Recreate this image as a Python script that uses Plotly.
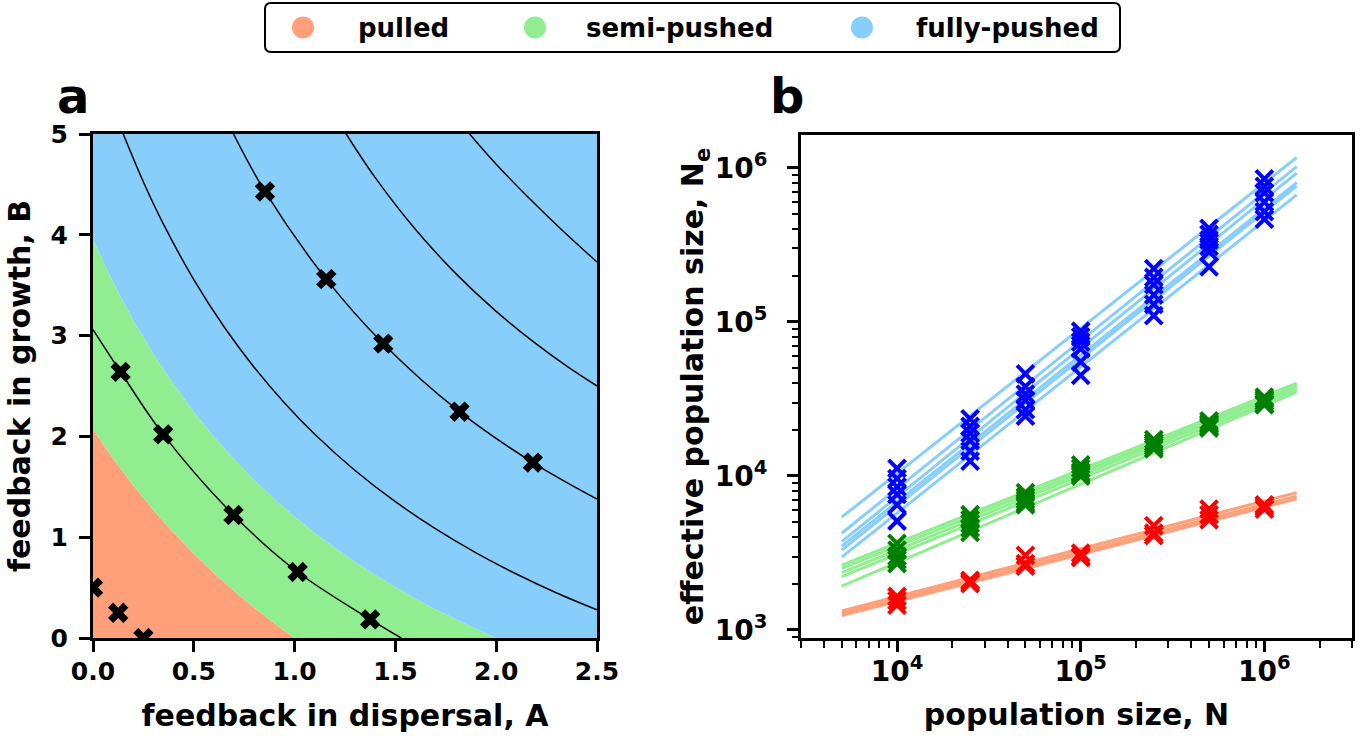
import plotly.graph_objects as go

W, H = 1371, 736

# ---------------- panel a : phase diagram ----------------
pulled_pts_A = [0.0, 0.125, 0.25]
pulled_pts_B = [0.5, 0.25, 0.0]
semi_pts_A = [0.137, 0.348, 0.697, 1.015, 1.375]
semi_pts_B = [2.64, 2.02, 1.22, 0.655, 0.185]
fully_pts_A = [0.853, 1.157, 1.44, 1.818, 2.182]
fully_pts_B = [4.43, 3.56, 2.92, 2.245, 1.74]

# boundary pulled / semi-pushed
pulled_edge_A = [0.0, 0.1, 0.2, 0.3, 0.4, 0.5, 0.6, 0.7, 0.8, 0.9, 1.0]
pulled_edge_B = [2.07, 1.778, 1.512, 1.268, 1.043, 0.836, 0.644, 0.466, 0.300, 0.145, 0.0]
# boundary semi-pushed / fully-pushed
semi_edge_A = [0.0, 0.1, 0.2, 0.3, 0.4, 0.5, 0.6, 0.7, 0.8, 0.9, 1.0,
               1.1, 1.2, 1.3, 1.4, 1.5, 1.6, 1.7, 1.8, 1.9, 2.0]
semi_edge_B = [3.95, 3.526, 3.151, 2.815, 2.514, 2.243, 1.996, 1.771, 1.566, 1.377, 1.203,
               1.042, 0.892, 0.753, 0.624, 0.503, 0.389, 0.283, 0.183, 0.089, 0.0]

# constant-velocity contours
c1_A = [0.0, 0.137, 0.348, 0.697, 1.015, 1.375, 1.529]
c1_B = [3.06, 2.64, 2.02, 1.22, 0.655, 0.185, 0.0]
c2_A = [0.15, 0.25, 0.35, 0.5, 0.65, 0.8, 0.95, 1.1, 1.3, 1.5, 1.7, 1.9, 2.1, 2.3, 2.5]
c2_B = [5.0, 4.524, 4.103, 3.556, 3.088, 2.684, 2.332, 2.022, 1.662, 1.352, 1.082, 0.845, 0.635, 0.447, 0.28]
c3_A = [0.697, 0.853, 1.157, 1.44, 1.818, 2.182, 2.5]
c3_B = [5.0, 4.43, 3.56, 2.92, 2.245, 1.74, 1.378]
c4_A = [1.256, 1.4, 1.6, 1.8, 2.0, 2.2, 2.35, 2.5]
c4_B = [5.0, 4.567, 4.052, 3.615, 3.24, 2.915, 2.697, 2.5]
c5_A = [1.868, 2.0, 2.165, 2.33, 2.5]
c5_B = [5.0, 4.7, 4.36, 4.04, 3.73]
contours = [(c1_A, c1_B), (c2_A, c2_B), (c3_A, c3_B), (c4_A, c4_B), (c5_A, c5_B)]

A_ticks = [0.0, 0.5, 1.0, 1.5, 2.0, 2.5]
A_ticklabels = ["0.0", "0.5", "1.0", "1.5", "2.0", "2.5"]
B_ticks = [0, 1, 2, 3, 4, 5]

# ---------------- panel b : N_e vs N ----------------
N_sim = [1e4, 2.5e4, 5e4, 1e5, 2.5e5, 5e5, 1e6]
N_fit = [5e3, 1.5e6]

pulled_Ne = [
    [1650, 2100, 3050, 3150, 4750, 6100, 6500],
    [1550, 2050, 2700, 3000, 4250, 5600, 6300],
    [1450, 2000, 2600, 2950, 4100, 5200, 6100],
]
pulled_fit = [[1330, 7800], [1280, 7400], [1240, 7100]]

semi_Ne = [
    [3650, 5600, 7800, 11800, 17200, 22800, 32500],
    [3300, 5200, 7300, 11200, 16500, 22000, 31500],
    [3000, 4900, 7000, 10600, 16000, 21500, 30500],
    [2850, 4600, 6700, 10300, 15500, 21000, 29500],
    [2700, 4300, 6500, 10000, 15000, 20500, 29000],
]
semi_fit = [[2640, 40000], [2510, 38500], [2360, 37500], [2220, 36000], [1930, 35000]]

fully_Ne = [
    [11200, 23500, 46000, 87000, 222000, 405000, 850000],
    [9600, 21000, 38000, 80000, 195000, 370000, 760000],
    [8500, 19000, 34000, 74000, 175000, 340000, 690000],
    [7600, 17000, 31000, 67000, 150000, 310000, 600000],
    [6500, 14500, 27000, 55000, 130000, 285000, 520000],
    [5100, 12500, 24500, 45000, 110000, 228000, 465000],
]
fully_fit = [[5400, 1170000], [4250, 1020000], [3750, 925000], [3500, 804000],
             [3300, 764000], [2970, 668000]]

Ne_ticks = [1e3, 1e4, 1e5, 1e6]
Ne_ticklabels = ["10<sup>3</sup>", "10<sup>4</sup>", "10<sup>5</sup>", "10<sup>6</sup>"]
N_ticks = [1e4, 1e5, 1e6]
N_ticklabels = ["10<sup>4</sup>", "10<sup>5</sup>", "10<sup>6</sup>"]

classes = ["pulled", "semi-pushed", "fully-pushed"]
fill_colors = ["#FFA07A", "#90EE90", "#87CEFA"]
marker_colors = ["#FF0000", "#008000", "#0000FF"]

# ---------------- figure ----------------
FONT = "DejaVu Sans"
fig = go.Figure()

# regions (panel a)
fig.add_trace(go.Scatter(
    x=[0.0] + pulled_edge_A, y=[0.0] + pulled_edge_B,
    fill="toself", fillcolor=fill_colors[0], mode="lines", line=dict(width=0),
    hoverinfo="skip", showlegend=False, xaxis="x", yaxis="y"))
fig.add_trace(go.Scatter(
    x=pulled_edge_A + semi_edge_A[::-1], y=pulled_edge_B + semi_edge_B[::-1],
    fill="toself", fillcolor=fill_colors[1], mode="lines", line=dict(width=0),
    hoverinfo="skip", showlegend=False, xaxis="x", yaxis="y"))
fig.add_trace(go.Scatter(
    x=semi_edge_A + [2.5, 2.5, 0.0], y=semi_edge_B + [0.0, 5.0, 5.0],
    fill="toself", fillcolor=fill_colors[2], mode="lines", line=dict(width=0),
    hoverinfo="skip", showlegend=False, xaxis="x", yaxis="y"))

for cA, cB in contours:
    fig.add_trace(go.Scatter(
        x=cA, y=cB, mode="lines", line=dict(color="black", width=1.5, shape="spline"),
        hoverinfo="skip", showlegend=False, xaxis="x", yaxis="y"))

for pA, pB in [(pulled_pts_A, pulled_pts_B), (semi_pts_A, semi_pts_B), (fully_pts_A, fully_pts_B)]:
    fig.add_trace(go.Scatter(
        x=pA, y=pB, mode="markers",
        marker=dict(symbol="x", size=18, color="black", line=dict(width=0)),
        showlegend=False, xaxis="x", yaxis="y", cliponaxis=True))

# panel b : fits then points
for fits, col in [(pulled_fit, fill_colors[0]), (semi_fit, fill_colors[1]), (fully_fit, fill_colors[2])]:
    for f in fits:
        fig.add_trace(go.Scatter(
            x=N_fit, y=f, mode="lines", line=dict(color=col, width=3),
            showlegend=False, xaxis="x2", yaxis="y2"))
for series, col in [(pulled_Ne, marker_colors[0]), (semi_Ne, marker_colors[1]), (fully_Ne, marker_colors[2])]:
    for s in series:
        fig.add_trace(go.Scatter(
            x=N_sim, y=s, mode="markers",
            marker=dict(symbol="x-thin", size=17, color=col, line=dict(width=4, color=col)),
            showlegend=False, xaxis="x2", yaxis="y2"))

def fx(px):
    return px / W

def fy(py):
    return 1 - py / H

tickfont = dict(family=FONT, size=25, color="black", weight="bold")
logtickfont = dict(family=FONT, size=28, color="black", weight="bold")
titlefont = dict(family=FONT, size=30, color="black", weight="bold")
common = dict(showline=True, linecolor="black", linewidth=3, mirror=True,
              ticks="outside", ticklen=11, tickwidth=2.5, tickcolor="black",
              showgrid=False, zeroline=False, automargin=False)

minor_x = [m * 10 ** e for e in range(3, 7) for m in range(2, 10) if 3e3 <= m * 10 ** e <= 3e6]
minor_y = [m * 10 ** e for e in range(2, 7) for m in range(2, 10) if 880 <= m * 10 ** e <= 1.64e6]

fig.update_layout(
    width=W, height=H, autosize=False,
    margin=dict(l=0, r=0, t=0, b=0, autoexpand=False),
    paper_bgcolor="white", plot_bgcolor="white",
    showlegend=False,
    xaxis=dict(domain=[fx(93), fx(597)], range=[0, 2.5], anchor="y",
               tickvals=A_ticks, ticktext=A_ticklabels, tickfont=tickfont, ticklabelstandoff=-2,
               title=dict(text="feedback in dispersal, A", font=titlefont, standoff=20),
               **common),
    yaxis=dict(domain=[fy(638), fy(134)], range=[0, 5], anchor="x",
               tickvals=B_ticks, tickfont=tickfont, ticklabelstandoff=6,
               title=dict(text="feedback in growth, B", font=titlefont, standoff=12),
               **common),
    xaxis2=dict(domain=[fx(801), fx(1352)], type="log", range=[3.4771, 6.4771], anchor="y2",
                tickvals=N_ticks, ticktext=N_ticklabels, tickfont=logtickfont, ticklabelstandoff=-5,
                minor=dict(tickvals=minor_x, ticks="outside", ticklen=7, tickwidth=2, tickcolor="black"),
                title=dict(text="population size, N", font=titlefont, standoff=18),
                **common),
    yaxis2=dict(domain=[fy(638), fy(135)], type="log", range=[2.948, 6.214], anchor="x2",
                tickvals=Ne_ticks, ticktext=Ne_ticklabels, tickfont=logtickfont, ticklabelstandoff=14,
                minor=dict(tickvals=minor_y, ticks="outside", ticklen=6, tickwidth=2, tickcolor="black"),
                title=dict(text="effective population size, N<sub>e</sub>", font=titlefont, standoff=1),
                **common),
)

# panel letters
fig.add_annotation(text="a", x=fx(73), y=fy(96), xref="paper", yref="paper", showarrow=False,
                   xanchor="center", yanchor="middle", font=dict(family=FONT, size=48, color="black", weight="bold"))
fig.add_annotation(text="b", x=fx(787), y=fy(96), xref="paper", yref="paper", showarrow=False,
                   xanchor="center", yanchor="middle", font=dict(family=FONT, size=48, color="black", weight="bold"))

# legend (drawn as box, circles and text)
x0, x1, y0, y1, r = 265, 1120, 3, 52, 6
path = (f"M {fx(x0 + r)},{fy(y0)} L {fx(x1 - r)},{fy(y0)} Q {fx(x1)},{fy(y0)} {fx(x1)},{fy(y0 + r)} "
        f"L {fx(x1)},{fy(y1 - r)} Q {fx(x1)},{fy(y1)} {fx(x1 - r)},{fy(y1)} "
        f"L {fx(x0 + r)},{fy(y1)} Q {fx(x0)},{fy(y1)} {fx(x0)},{fy(y1 - r)} "
        f"L {fx(x0)},{fy(y0 + r)} Q {fx(x0)},{fy(y0)} {fx(x0 + r)},{fy(y0)} Z")
fig.add_shape(type="path", path=path, xref="paper", yref="paper",
              line=dict(color="black", width=2), fillcolor="white", layer="above")
circle_x = [303, 535, 862]
text_x = [356, 584, 914]
for name, col, cx, tx in zip(classes, fill_colors, circle_x, text_x):
    fig.add_shape(type="circle", xref="paper", yref="paper",
                  x0=fx(cx - 11), x1=fx(cx + 11), y0=fy(27.5 + 11), y1=fy(27.5 - 11),
                  fillcolor=col, line=dict(width=0), layer="above")
    fig.add_annotation(text=name, x=fx(tx), y=fy(28), xref="paper", yref="paper", showarrow=False,
                       xanchor="left", yanchor="middle",
                       font=dict(family=FONT, size=26, color="black", weight="bold"))

# the figure fills the page exactly (no default body margin)
fig.write_html("out.html", config={"displayModeBar": False},
               post_script="document.body.style.margin='0px';")
